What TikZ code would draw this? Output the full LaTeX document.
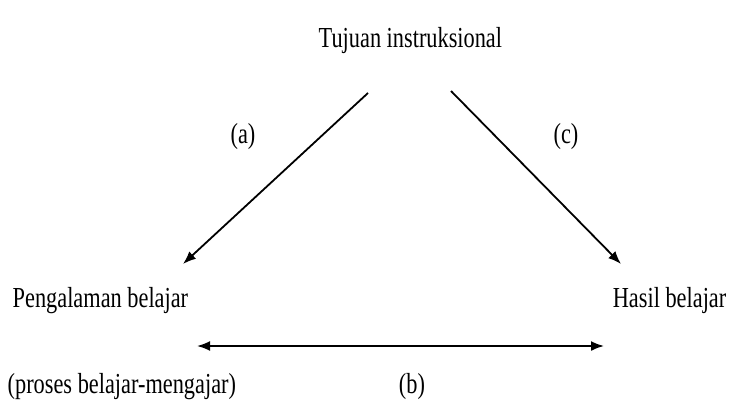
\documentclass[tikz,border=0pt]{standalone}
\usepackage{fontspec}
\setmainfont{Liberation Serif}
\usetikzlibrary{arrows.meta}

\begin{document}
\begin{tikzpicture}[x=1pt, y=-1pt, line width=1.8pt,
    lbl/.style={inner sep=0pt, xscale=0.77, font=\fontsize{29}{34}\selectfont},
    arr/.style={-{Latex[length=13pt,width=10pt]}}]
  \useasboundingbox (0,0) rectangle (736,409);

  % ---------- texts ----------
  \node[lbl, anchor=base west] (tujuan)     at (318,48)  {Tujuan instruksional};
  \node[lbl, anchor=base west] (pengalaman) at (12,307)  {Pengalaman belajar};
  \node[lbl, anchor=base east] (hasil)      at (727,307) {Hasil belajar};
  \node[lbl, anchor=base west] (proses)     at (7,393)   {(proses belajar-mengajar)};
  \node[lbl, anchor=base]      (la)         at (243,143) {(a)};
  \node[lbl, anchor=base]      (lc)         at (566,143) {(c)};
  \node[lbl, anchor=base]      (lb)         at (412,393) {(b)};

  % ---------- arrow ends ----------
  \coordinate (tl) at (368,93);
  \coordinate (tr) at (451,91);
  \coordinate (pl) at (183,264);
  \coordinate (hr) at (621,264);
  \coordinate (bl) at (197,346);
  \coordinate (br) at (604,346);

  % ---------- arrows ----------
  \draw[arr] (tl) -- (pl);
  \draw[arr] (tr) -- (hr);
  \draw[arr, {Latex[length=13pt,width=10pt]}-{Latex[length=13pt,width=10pt]}] (bl) -- (br);
\end{tikzpicture}
\end{document}
